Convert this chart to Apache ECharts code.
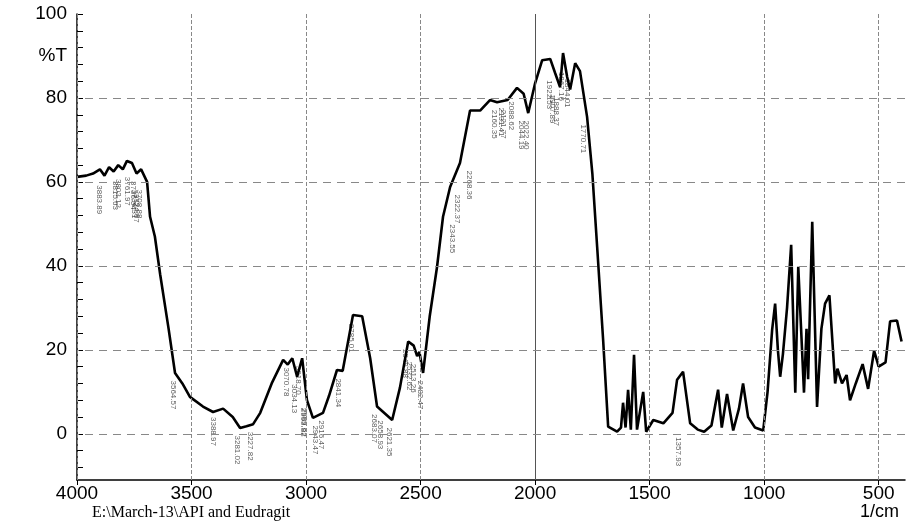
<!DOCTYPE html>
<html>
<head>
<meta charset="utf-8">
<script src="https://cdn.jsdelivr.net/npm/echarts@6/dist/echarts.min.js"></script>
<style>html,body{margin:0;background:#fff}#c{width:909px;height:531px}</style>
</head>
<body>
<div id="c"></div>
<script>
// spectrum, wavenumber (1/cm) vs %T
const wavenumbers = [4000,3960,3930,3900,3880,3860,3840,3820,3800,3782,3760,3740,3720,3694,3681,3660,3637,3600,3572,3540,3507,3450,3406,3362,3320,3288,3260,3231,3200,3150,3100,3080,3060,3039,3017,2996,2970,2926,2900,2865,2840,2795,2755,2720,2690,2624,2590,2554,2530,2515,2505,2489,2460,2428,2402,2371,2328,2284,2240,2197,2166,2120,2079,2050,2030,2000,1969,1934,1913,1891,1878,1860,1847,1825,1804,1773,1750,1729,1703,1681,1642,1625,1616,1605,1594,1582,1568,1555,1540,1528,1515,1484,1440,1400,1380,1354,1323,1290,1262,1230,1201,1185,1162,1135,1110,1092,1070,1040,1004,985,965,952,940,930,918,900,882,864,851,826,815,808,790,769,750,734,715,690,680,660,640,625,600,570,546,520,500,470,450,420,400,385];
const transmittance = [61.2,61.5,62,63,61.5,63.5,62.5,64,63,65,64.5,62,63,60,51.7,47,38,25,14.5,12,8.8,6.5,5.2,6,4,1.4,1.8,2.3,5,12,17.6,16.5,18,13.6,18,8,3.8,5,9,15.2,15,28.3,28,18,6.5,3.3,11,22,21,18.5,19.5,14.5,28,39.8,51.7,58.8,64.5,77,77,79.5,79,79.5,82.4,81,76.4,83.5,89,89.3,86,82.6,90.7,85,82,88.3,86.4,75.5,62,44.5,22.4,1.7,0.5,1.5,7.4,1.5,10.5,1,18.8,1,6,10,0.5,3.3,2.5,5,12.9,14.8,2.5,1,0.5,2,10.5,1.5,9.5,0.8,6,12,4,1.5,0.8,10,24.8,31,20,13.6,19,30,45,9.8,39.8,9.8,25,13,50.5,6.4,25,31,33,12,15.5,12,14,8,12,16.6,10.7,19.8,16,17,26.8,27,22];
// labelled peaks
const peakWn = [3883.89,3815.63,3802.12,3761.97,3736.54,3708.88,3734.31,3724.67,3564.57,3388.97,3281.02,3227.82,3070.78,3034.13,3018.70,2993.82,2989.62,2943.47,2916.47,2841.34,2785.01,2683.07,2658.93,2621.35,2549.88,2532.62,2513.26,2482.47,2343.55,2322.37,2268.36,2160.35,2131.41,2121.77,2088.62,2044.19,2022.40,1922.53,1907.89,1888.37,1867.16,1844.01,1770.71,1357.93];
const peakT = [61,62,62.5,63,62,60,60,59,14.5,5.8,1.4,2.3,17.6,13.6,18,8,8,3.8,5,15,28,6.5,5,3.3,22,19,18.5,14.5,51.7,58.8,64.5,79,79.5,79,81,76.4,76.4,86,82.6,82,88,86.4,75.5,1];
const xTicks = [4000,3500,3000,2500,2000,1500,1000,500];
const yTicks = [0,20,40,60,80,90,100];

const chart = echarts.init(document.getElementById('c'));
const grid = [];
xTicks.forEach(v => grid.push({xAxis: v, lineStyle: {type: v === 2000 ? 'solid' : 'dashed', color: v === 2000 ? '#555' : '#888', width: 1}}));
[0,20,40,60,80].forEach(v => grid.push({yAxis: v, lineStyle: {type: [8,6], color: '#888', width: 1}}));

chart.setOption({
  animation: false,
  grid: {left: 77, right: 4, top: 14, bottom: 51},
  xAxis: {
    type: 'value', inverse: true, min: 385, max: 4000,
    axisLine: {onZero: false, lineStyle: {color: '#000', width: 1.5}},
    splitLine: {show: false},
    axisTick: {customValues: xTicks, inside: false, length: 5, lineStyle: {color: '#000'}},
    axisLabel: {customValues: xTicks, color: '#000', fontSize: 19, fontFamily: 'Liberation Sans', margin: 4,
      formatter: v => String(v)}
  },
  yAxis: {
    type: 'value', min: -11, max: 100,
    axisLine: {show: true, lineStyle: {color: '#000', width: 1.5}},
    splitLine: {show: false},
    axisTick: {customValues: [-8,-4,0,4,8,12,16,20,24,28,32,36,40,44,48,52,56,60,64,68,72,76,80,84,88,92,96,100], inside: true, length: 6, lineStyle: {color: '#000'}},
    axisLabel: {customValues: yTicks, color: '#000', fontSize: 19, fontFamily: 'Liberation Sans', margin: 10,
      formatter: v => v === 90 ? '%T' : String(v)}
  },
  graphic: [
    {type: 'text', left: 92, top: 505, style: {text: 'E:\\March-13\\API and Eudragit', font: '16px "Liberation Serif"', fill: '#000'}},
    {type: 'text', right: 10, top: 503, style: {text: '1/cm', font: '18px "Liberation Sans"', fill: '#000'}}
  ],
  series: [
    {
      type: 'line', symbol: 'none',
      data: wavenumbers.map((w, i) => [w, transmittance[i]]),
      lineStyle: {color: '#000', width: 2.6},
      markLine: {silent: true, symbol: 'none', label: {show: false}, data: grid},
      z: 3
    },
    {
      type: 'scatter', symbolSize: 0,
      data: peakWn.map((w, i) => [w, peakT[i]]),
      label: {show: true, rotate: -90, position: 'bottom', distance: 22, fontSize: 8, fontFamily: 'Liberation Sans', color: '#333',
        formatter: p => p.value[0].toFixed(2)},
      z: 2
    }
  ]
});
</script>
</body>
</html>
